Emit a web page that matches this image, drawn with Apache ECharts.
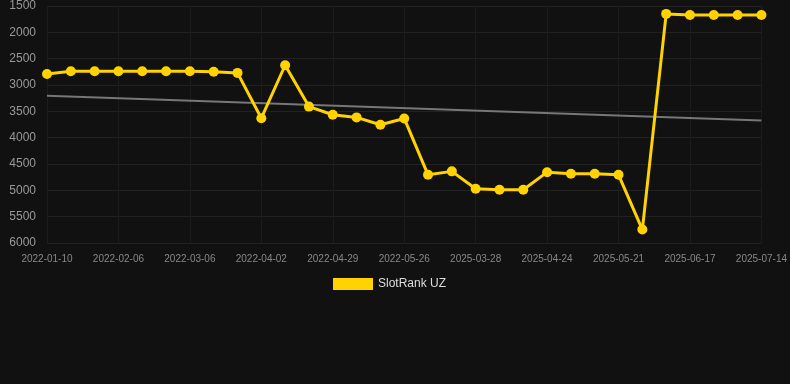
<!DOCTYPE html>
<html>
<head>
<meta charset="utf-8">
<script src="https://cdn.jsdelivr.net/npm/echarts@6/dist/echarts.min.js"></script>
<style>
  html, body { margin: 0; padding: 0; background: #111111; }
  #main { width: 790px; height: 384px; }
</style>
</head>
<body>
<div id="main"></div>
<script>
var chart = echarts.init(document.getElementById('main'));

var dates = [
  '2022-01-10', '2022-01-19', '2022-01-28', '2022-02-06', '2022-02-15', '2022-02-24',
  '2022-03-06', '2022-03-15', '2022-03-24', '2022-04-02', '2022-04-11', '2022-04-20',
  '2022-04-29', '2022-05-08', '2022-05-17', '2022-05-26', '2025-03-10', '2025-03-19',
  '2025-03-28', '2025-04-06', '2025-04-15', '2025-04-24', '2025-05-03', '2025-05-12',
  '2025-05-21', '2025-05-30', '2025-06-08', '2025-06-17', '2025-06-26', '2025-07-05',
  '2025-07-14'
];

var ranks = [
  2790, 2740, 2740, 2740, 2740, 2740, 2740, 2750, 2770, 3630, 2625,
  3410, 3565, 3615, 3755, 3635, 4705, 4640, 4970, 4990, 4990,
  4655, 4685, 4685, 4705, 5745, 1650, 1670, 1670, 1670, 1670
];

// trend line: only the two ends are known, the rest is left empty
var trend = [3205];
for (var i = 1; i < dates.length - 1; i++) trend.push(null);
trend.push(3675);

var yTicks = [1500, 6000];

option = {
  backgroundColor: '#111111',
  animation: false,
  grid: {
    left: 47,
    right: 28,
    top: 6,
    bottom: 141
  },
  legend: {
    data: ['SlotRank UZ'],
    top: 273,
    left: 328,
    itemWidth: 40,
    itemHeight: 12,
    icon: 'rect',
    textStyle: { color: '#dddddd', fontSize: 12, fontFamily: 'Liberation Sans, Arial, sans-serif' }
  },
  xAxis: {
    type: 'category',
    boundaryGap: false,
    data: dates,
    axisLine: { show: false },
    axisTick: { show: false },
    axisLabel: {
      interval: 2,
      color: '#888888',
      fontSize: 10,
      margin: 11,
      fontFamily: 'Liberation Sans, Arial, sans-serif'
    },
    splitLine: { show: true, interval: 2, lineStyle: { color: '#1c1c1c', width: 1 } }
  },
  yAxis: {
    type: 'value',
    inverse: true,
    min: yTicks[0],
    max: yTicks[1],
    interval: 500,
    axisLine: { show: false },
    axisTick: { show: false },
    axisLabel: {
      color: '#999999',
      fontSize: 12,
      margin: 11,
      formatter: function (v) { return String(v); },
      fontFamily: 'Liberation Sans, Arial, sans-serif'
    },
    splitLine: { lineStyle: { color: '#222222', width: 1 } }
  },
  series: [
    {
      name: 'SlotRank UZ',
      type: 'line',
      data: ranks,
      symbol: 'circle',
      symbolSize: 10,
      lineStyle: { color: '#ffd200', width: 3 },
      itemStyle: { color: '#ffd200' },
      z: 3
    },
    {
      name: 'Trend',
      type: 'line',
      data: trend,
      connectNulls: true,
      symbol: 'none',
      lineStyle: { color: '#777777', width: 2 },
      z: 2
    }
  ]
};

chart.setOption(option);
</script>
</body>
</html>
